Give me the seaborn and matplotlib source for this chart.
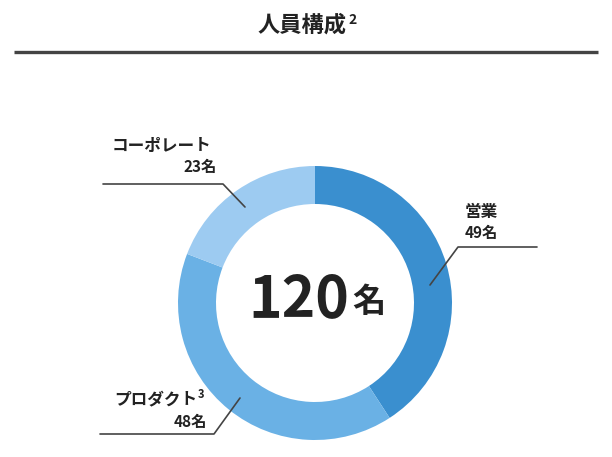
import matplotlib
matplotlib.use("Agg")
import matplotlib.pyplot as plt
import seaborn as sns

sns.set_theme(style="white")
plt.rcParams['font.family'] = ['Noto Sans CJK JP', 'DejaVu Sans']

# data
categories = ["営業", "プロダクト", "コーポレート"]
counts = [49, 48, 23]
colors = ["#3a8fcf", "#6ab1e5", "#9dcbf1"]
total = sum(counts)

W, H = 612, 457
fig = plt.figure(figsize=(6.12, 4.57), dpi=100)
ax = fig.add_axes([0, 0, 1, 1])

def Y(y):
    return H - y

# donut
cx, cy, r = 315, Y(303), 137
ax.pie(counts, colors=colors, startangle=90, counterclock=False,
       center=(cx, cy), radius=r,
       wedgeprops=dict(width=38, edgecolor="none"), frame=True)
ax.set_xlim(0, W)
ax.set_ylim(0, H)
ax.set_aspect("equal")
ax.axis("off")

tc = "#222222"
lc = "#444444"

# title + rule
ax.text(347, Y(25), "人員構成", ha="right", va="center", fontsize=16,
        fontweight="bold", color=tc)
ax.text(348, Y(20), "2", ha="left", va="center", fontsize=10,
        fontweight="bold", color=tc)
ax.plot([14, 598], [Y(52), Y(52)], color=lc, lw=2.4, solid_capstyle="butt")

# centre text
ax.text(299, Y(300), str(total), ha="center", va="center", fontsize=41,
        fontweight="bold", color=tc)
ax.text(369, Y(302), "名", ha="center", va="center", fontsize=24,
        fontweight="bold", color=tc)

fs_lab, fs_num = 12, 11
# 営業
ax.plot([430, 458, 537], [Y(285), Y(247), Y(247)], color=lc, lw=1.2)
ax.text(465, Y(212), categories[0], ha="left", va="center", fontsize=fs_lab,
        fontweight="bold", color=tc)
ax.text(465, Y(233), f"{counts[0]}名", ha="left", va="center", fontsize=fs_num,
        fontweight="bold", color=tc)

# コーポレート
ax.plot([103, 223, 245], [Y(184), Y(184), Y(207)], color=lc, lw=1.2)
ax.text(112, Y(146), categories[2], ha="left", va="center", fontsize=fs_lab,
        fontweight="bold", color=tc)
ax.text(217, Y(167), f"{counts[2]}名", ha="right", va="center", fontsize=fs_num,
        fontweight="bold", color=tc)

# プロダクト
ax.plot([240, 214, 100], [Y(398), Y(434), Y(434)], color=lc, lw=1.2)
ax.text(197, Y(399), categories[1], ha="right", va="center", fontsize=fs_lab,
        fontweight="bold", color=tc)
ax.text(198, Y(394), "3", ha="left", va="center", fontsize=8,
        fontweight="bold", color=tc)
ax.text(207, Y(422), f"{counts[1]}名", ha="right", va="center", fontsize=fs_num,
        fontweight="bold", color=tc)

fig.savefig("out.png", dpi=100, facecolor="white")
